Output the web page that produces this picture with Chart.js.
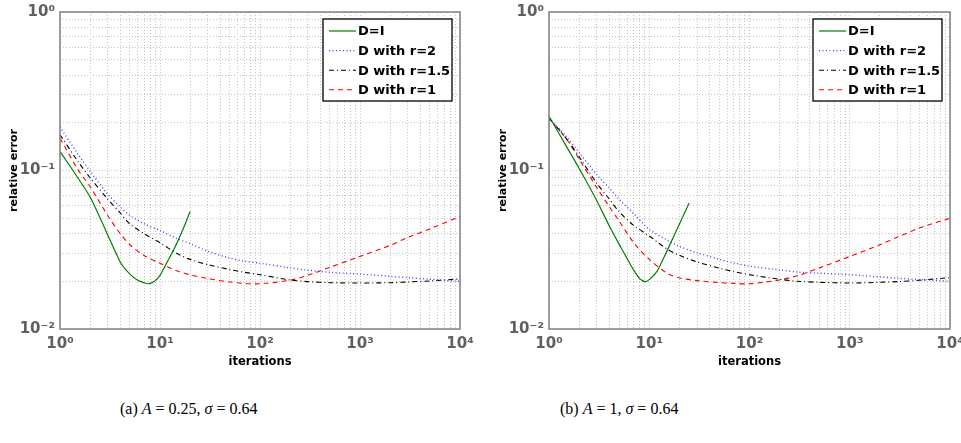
<!DOCTYPE html>
<html>
<head>
<meta charset="utf-8">
<script src="https://cdn.jsdelivr.net/npm/chart.js@4"></script>
<style>
body { margin: 0; width: 961px; height: 443px; background: #fff; position: relative; overflow: hidden; }
#wrapA { position: absolute; left: 0; top: 0; width: 480px; height: 380px; }
#wrapB { position: absolute; left: 480px; top: 0; width: 481px; height: 380px; }
.caption { position: absolute; top: 400px; font-family: "Liberation Serif", "DejaVu Serif", serif; font-size: 16px; color: #000; white-space: nowrap; }
</style>
</head>
<body>
<div id="wrapA"><canvas id="chartA" width="480" height="380"></canvas></div>
<div id="wrapB"><canvas id="chartB" width="481" height="380"></canvas></div>
<div class="caption" style="left:120px">(a) <i>A</i> = 0.25, <i>σ</i> = 0.64</div>
<div class="caption" style="left:560px">(b) <i>A</i> = 1, <i>σ</i> = 0.64</div>
<script>
var seriesNames = ['D=I', 'D with r=2', 'D with r=1.5', 'D with r=1'];
var xTickLabels = ['10⁰', '10¹', '10²', '10³', '10⁴'];
var yTickLabels = ['10⁻²', '10⁻¹', '10⁰'];
var xDecades = [1, 10, 100, 1000, 10000];
var yDecades = [0.01, 0.1, 1];

// iterations shared by the r-series
var iters = [1, 1.5, 2, 3, 4, 5, 7, 10, 15, 20, 30, 50, 70, 100, 200, 300, 500, 1000, 2000, 3000, 5000, 10000];

// (a) A = 0.25
var itersA_I = [1, 2, 4, 5, 6, 7, 7.5, 8, 9, 10, 11, 12, 14, 16, 18, 20];
var errA_I   = [0.132, 0.068, 0.0265, 0.0222, 0.0203, 0.0195, 0.0193, 0.0194, 0.0202, 0.0218, 0.0243, 0.027, 0.0325, 0.039, 0.0465, 0.0552];
var errA_r2  = [0.188, 0.128, 0.099, 0.071, 0.059, 0.052, 0.046, 0.0418, 0.037, 0.0345, 0.031, 0.028, 0.0268, 0.026, 0.0243, 0.0235, 0.0228, 0.0222, 0.0215, 0.0211, 0.0206, 0.020];
var errA_r15 = [0.168, 0.115, 0.090, 0.066, 0.054, 0.046, 0.0398, 0.035, 0.0298, 0.0275, 0.0255, 0.0237, 0.0228, 0.022, 0.0204, 0.0199, 0.0196, 0.0195, 0.0196, 0.0198, 0.0201, 0.0207];
var errA_r1  = [0.160, 0.102, 0.079, 0.052, 0.040, 0.034, 0.029, 0.026, 0.0232, 0.022, 0.0208, 0.0198, 0.0194, 0.0193, 0.0203, 0.0218, 0.0245, 0.0287, 0.0337, 0.0378, 0.0428, 0.0513];

// (b) A = 1
var itersB_I = [1, 1.5, 2, 3, 4, 5, 6, 7, 8, 9, 10, 12, 15, 20, 25];
var errB_I   = [0.22, 0.141, 0.103, 0.0645, 0.0446, 0.0343, 0.0279, 0.0235, 0.0208, 0.0199, 0.0205, 0.0232, 0.031, 0.0459, 0.0624];
var errB_r2  = [0.214, 0.163, 0.130, 0.094, 0.0774, 0.066, 0.0534, 0.0425, 0.0365, 0.0332, 0.0303, 0.0275, 0.0261, 0.0249, 0.0236, 0.0229, 0.0225, 0.022, 0.0213, 0.0209, 0.0205, 0.020];
var errB_r15 = [0.214, 0.158, 0.122, 0.083, 0.066, 0.055, 0.045, 0.0386, 0.032, 0.0292, 0.0265, 0.0242, 0.023, 0.022, 0.0206, 0.0200, 0.0197, 0.0195, 0.0197, 0.0199, 0.0203, 0.0211];
var errB_r1  = [0.214, 0.157, 0.118, 0.078, 0.059, 0.048, 0.035, 0.0275, 0.0225, 0.021, 0.0202, 0.0196, 0.0194, 0.0193, 0.0204, 0.0217, 0.0243, 0.0287, 0.034, 0.038, 0.0435, 0.050];

function pts(xs, ys) {
    return xs.map(function(x, i) { return {x: x, y: ys[i]}; });
}

function minorTicks(decades) {
    var out = [];
    decades.forEach(function(d, k) {
        if (k == decades.length - 1) { out.push({value: d}); return; }
        for (var m = 1; m < 10; m++) out.push({value: +(d * m).toPrecision(3)});
    });
    return out;
}

var tickFont = {family: 'DejaVu Sans', weight: 'bold', size: 15};
var titleFont = {family: 'DejaVu Sans', weight: 'bold', size: 11.5};

// frame round the plot and legend box inside it
var frameLegend = {
    id: 'frameLegend',
    afterDatasetsDraw: function(chart) {
        var ctx = chart.ctx, area = chart.chartArea;
        ctx.save();
        ctx.strokeStyle = '#808080';
        ctx.lineWidth = 1.5;
        ctx.strokeRect(area.left, area.top, area.right - area.left, area.bottom - area.top);

        var w = 129, h = 82, rowH = 19.6;
        var x0 = area.right - 8 - w, y0 = area.top + 7;
        ctx.fillStyle = '#fff';
        ctx.fillRect(x0, y0, w, h);
        ctx.strokeStyle = '#000';
        ctx.lineWidth = 1.3;
        ctx.strokeRect(x0, y0, w, h);
        ctx.font = 'bold 13px "DejaVu Sans"';
        ctx.textBaseline = 'middle';
        chart.data.datasets.forEach(function(ds, i) {
            var y = y0 + 12 + i * rowH;
            ctx.strokeStyle = ds.borderColor;
            ctx.lineWidth = ds.borderWidth;
            ctx.setLineDash(ds.borderDash || []);
            ctx.beginPath();
            ctx.moveTo(x0 + 6, y);
            ctx.lineTo(x0 + 33, y);
            ctx.stroke();
            ctx.setLineDash([]);
            ctx.fillStyle = '#000';
            ctx.fillText(ds.label, x0 + 35, y + 1);
        });
        ctx.restore();
    }
};

function makeChart(id, padLeft, padRight, iterI, errI, r2, r15, r1) {
    return new Chart(document.getElementById(id), {
        type: 'line',
        data: {
            datasets: [{
                label: seriesNames[0],
                data: pts(iterI, errI),
                borderColor: '#008000',
                borderWidth: 1.2,
                tension: 0.2
            }, {
                label: seriesNames[1],
                data: pts(iters, r2),
                borderColor: '#4040ff',
                borderWidth: 1.4,
                borderDash: [1, 2.5],
                tension: 0.3
            }, {
                label: seriesNames[2],
                data: pts(iters, r15),
                borderColor: '#000000',
                borderWidth: 1.1,
                borderDash: [5, 3, 1, 3],
                tension: 0.3
            }, {
                label: seriesNames[3],
                data: pts(iters, r1),
                borderColor: '#ff0000',
                borderWidth: 1.1,
                borderDash: [5, 4],
                tension: 0.3
            }]
        },
        options: {
            responsive: false,
            animation: false,
            layout: {padding: {left: padLeft, right: padRight, top: 12, bottom: 0}},
            elements: {point: {radius: 0}},
            plugins: {
                legend: {display: false},
                tooltip: {enabled: false}
            },
            scales: {
                x: {
                    type: 'logarithmic',
                    min: 1,
                    max: 10000,
                    afterBuildTicks: function(scale) { scale.ticks = minorTicks(xDecades); },
                    afterFit: function(scale) {
                        scale.height = 51;
                        scale.paddingLeft = 0;
                        scale.paddingRight = 0;
                    },
                    grid: {color: '#c4c4c4', lineWidth: 1, drawTicks: false},
                    border: {display: false, dash: [1, 2]},
                    ticks: {
                        autoSkip: false,
                        maxRotation: 0,
                        padding: 6,
                        color: '#606060',
                        font: tickFont,
                        callback: function(v) {
                            var k = xDecades.indexOf(v);
                            return k < 0 ? '' : xTickLabels[k];
                        }
                    },
                    title: {display: true, text: 'iterations', color: '#000', font: titleFont, padding: {top: 0, bottom: 11}}
                },
                y: {
                    type: 'logarithmic',
                    min: 0.01,
                    max: 1,
                    afterBuildTicks: function(scale) { scale.ticks = minorTicks(yDecades); },
                    afterFit: function(scale) {
                        scale.width = 60;
                        scale.paddingTop = 0;
                        scale.paddingBottom = 0;
                    },
                    grid: {color: '#c4c4c4', lineWidth: 1, drawTicks: false},
                    border: {display: false, dash: [1, 2]},
                    ticks: {
                        autoSkip: false,
                        padding: 5,
                        color: '#606060',
                        font: tickFont,
                        callback: function(v) {
                            var k = yDecades.indexOf(v);
                            return k < 0 ? '' : yTickLabels[k];
                        }
                    },
                    title: {display: true, text: 'relative error', color: '#000', font: {family: 'DejaVu Sans', weight: 'bold', size: 11}, padding: {top: 8, bottom: 0}}
                }
            }
        },
        plugins: [frameLegend]
    });
}

var chartA = makeChart('chartA', 0, 20, itersA_I, errA_I, errA_r2, errA_r15, errA_r1);
var chartB = makeChart('chartB', 9, 11, itersB_I, errB_I, errB_r2, errB_r15, errB_r1);
</script>
</body>
</html>
